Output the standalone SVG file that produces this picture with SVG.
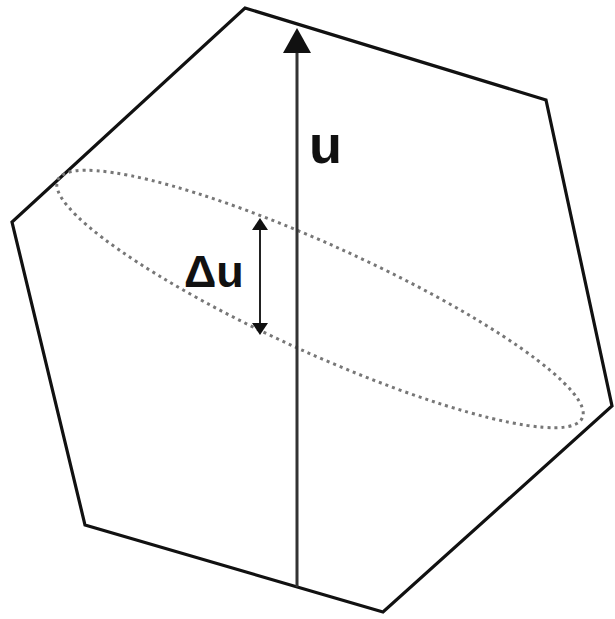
<svg xmlns="http://www.w3.org/2000/svg" width="615" height="619" viewBox="0 0 615 619">
<style>
.hex{fill:none;stroke:#111;stroke-width:3.2;stroke-linejoin:miter}
.dot{fill:none;stroke:#777;stroke-width:3;stroke-dasharray:3 4}
.ln{stroke:#333;stroke-width:3}
.ln2{stroke:#222;stroke-width:2}
.lbl{font-family:"Liberation Sans",Arial,sans-serif;font-weight:bold;fill:#111}
</style>
<rect width="615" height="619" fill="#fff"/>
<g id="hexagon"><polygon class="hex" points="245,8 546,100 612,406 383,612 85,525 12,222"/></g>
<g id="ellipse"><ellipse class="dot" cx="320" cy="299" rx="288" ry="54" transform="rotate(24.4 320 299)"/></g>
<g id="connectors">
<line class="ln" x1="297" y1="587" x2="297" y2="50"/>
<polygon points="297,28 283,53 311,53" fill="#111"/>
<line class="ln2" x1="260" y1="228" x2="260" y2="325"/>
<polygon points="260,218 252,230 268,230" fill="#111"/>
<polygon points="260,335 252,323 268,323" fill="#111"/>
</g>
<g id="label-u"><text class="lbl" x="309" y="163" font-size="54">u</text></g>
<g id="label-du"><text class="lbl" x="184" y="287" font-size="45">Δu</text></g>
</svg>
